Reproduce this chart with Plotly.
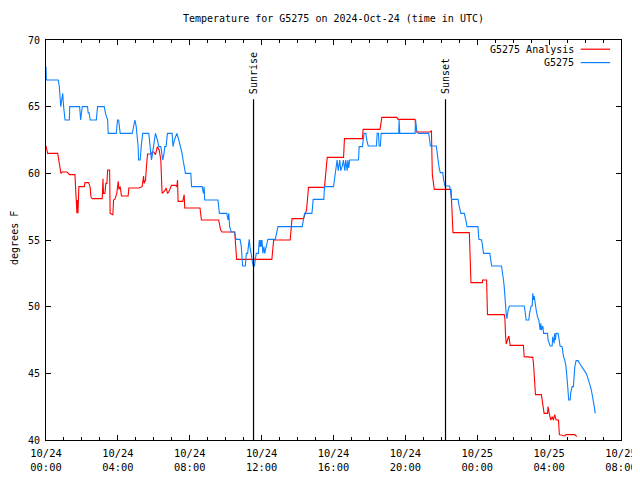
import pandas as pd
import plotly.graph_objects as go

# ---- data (hours after 2024-10-24 00:00 UTC, temperature in F) ----
analysis_hours = [0.0, 0.09, 0.65, 0.72, 0.76, 0.83, 0.9, 1.17, 1.25, 1.3, 1.61, 1.65, 1.72, 1.74, 1.78, 1.83,
                  2.13, 2.17, 2.37, 2.45, 2.5, 2.57, 3.13, 3.17, 3.2, 3.28, 3.33, 3.39, 3.43, 3.54, 3.57, 3.72,
                  3.76, 3.83, 3.94, 4.02, 4.06, 4.13, 4.2, 4.28, 4.57, 4.61, 5.17, 5.35, 5.43, 5.46, 5.54, 5.59,
                  5.65, 5.85, 5.91, 6.0, 6.09, 6.2, 6.3, 6.39, 6.46, 6.54, 6.61, 6.69, 6.76, 6.83, 6.98, 7.2,
                  7.28, 7.32, 7.35, 7.61, 7.69, 7.72, 8.57, 8.65, 9.61, 9.72, 9.8, 10.5, 10.57, 10.61, 12.57,
                  12.67, 13.59, 13.69, 14.33, 14.5, 14.61, 15.5, 15.61, 15.65, 16.56, 16.61, 17.61, 17.65,
                  18.59, 18.69, 19.52, 19.6, 20.54, 20.6, 21.37, 21.45, 21.5, 21.61, 22.54, 22.61, 22.65,
                  23.56, 23.6, 23.65, 24.28, 24.3, 24.52, 24.57, 25.5, 25.54, 25.57, 25.61, 25.68, 25.76,
                  25.83, 26.57, 26.61, 27.09, 27.13, 27.17, 27.24, 27.57, 27.65, 27.72, 27.91, 27.94, 28.02,
                  28.09, 28.17, 28.24, 28.31, 28.39, 28.52, 28.57, 28.87, 28.94, 29.43, 29.54]
analysis_temp = [62.05, 61.5, 61.5, 61.0, 60.5, 60.0, 60.1, 60.1, 60.0, 59.9, 59.9, 58.75, 57.0, 58.0, 57.0, 59.0,
                 59.0, 59.3, 59.3, 59.0, 58.25, 58.1, 58.1, 59.6, 58.5, 58.5, 59.25, 59.25, 60.25, 60.25, 57.0, 56.9,
                 58.0, 58.05, 58.5, 59.4, 58.8, 59.0, 58.3, 58.3, 58.3, 58.9, 58.9, 59.0, 59.8, 59.25, 59.5, 60.5,
                 61.45, 61.45, 61.6, 61.6, 61.4, 62.0, 61.75, 61.0, 58.5, 58.6, 58.7, 58.9, 58.5, 58.6, 59.1, 59.1,
                 59.0, 59.5, 57.9, 57.9, 58.4, 57.4, 57.4, 56.5, 56.5, 55.75, 55.6, 55.6, 54.05, 53.55, 53.55,
                 55.0, 55.0, 56.6, 56.6, 57.25, 58.95, 58.95, 60.6, 61.2, 61.2, 62.6, 62.6, 63.3,
                 63.3, 64.2, 64.2, 64.05, 64.05, 63.1, 63.1, 63.2, 59.9, 58.8, 58.8, 57.25, 55.55,
                 55.55, 53.8, 51.8, 51.8, 52.0, 52.0, 49.4, 49.4, 49.1, 48.0, 47.2, 47.5, 47.8,
                 47.1, 47.1, 46.25, 46.2, 45.75, 44.75, 43.4, 43.4, 42.6, 42.0, 42.0, 42.5, 41.9,
                 41.5, 41.75, 41.5, 41.9, 41.5, 41.5, 40.4, 40.3, 40.4, 40.4, 40.25]

station_hours = [0.0, 0.02, 0.68, 0.74, 0.82, 0.87, 0.93, 0.98, 1.06, 1.3, 1.32, 1.87, 1.93, 1.97, 2.02, 2.31,
                 2.35, 2.39, 2.46, 2.8, 2.84, 2.87, 3.24, 3.31, 3.43, 3.46, 3.91, 3.98, 4.04, 4.09, 4.13, 4.8,
                 4.87, 4.95, 5.02, 5.06, 5.13, 5.15, 5.24, 5.3, 5.38, 5.72, 5.8, 5.87, 5.93, 6.02, 6.09, 6.2,
                 6.28, 6.39, 6.46, 6.5, 6.57, 6.61, 6.68, 6.76, 7.02, 7.07, 7.15, 7.28, 7.39, 7.5, 7.57, 7.63,
                 7.7, 7.76, 8.06, 8.1, 8.69, 8.76, 8.8, 8.83, 9.57, 9.65, 10.06, 10.13, 10.17, 10.22, 10.31,
                 10.5, 10.57, 10.8, 10.87, 10.9, 10.94, 11.09, 11.11, 11.15, 11.22, 11.27, 11.31, 11.35, 11.4,
                 11.46, 11.53, 11.6, 11.63, 11.7, 11.82, 11.87, 11.91, 11.95, 11.98, 12.02, 12.07, 12.13,
                 12.17, 12.24, 12.35, 12.76, 12.85, 12.91, 14.26, 14.33, 14.39, 14.8, 14.87, 15.46, 15.5,
                 16.0, 16.06, 16.1, 16.13, 16.2, 16.26, 16.35, 16.4, 16.5, 16.55, 16.63, 16.68, 16.76,
                 16.8, 16.85, 16.9, 17.39, 17.43, 17.61, 17.7, 17.8, 17.85, 17.93, 18.39, 18.43, 18.5,
                 18.54, 18.61, 18.65, 19.63, 19.65, 19.69, 20.54, 20.57, 20.63, 20.72, 21.3, 21.35, 21.39,
                 21.72, 21.76, 21.8, 21.87, 21.94, 22.08, 22.13, 22.2, 22.46, 22.5, 22.57, 22.93, 23.0,
                 23.09, 23.28, 23.33, 23.38, 23.43, 24.04, 24.09, 24.24, 24.3, 24.35, 24.7, 24.76, 24.8,
                 25.35, 25.39, 25.46, 25.5, 25.54, 25.57, 25.61, 25.65, 25.69, 25.72, 25.79, 26.61, 26.65,
                 26.72, 26.87, 26.91, 27.0, 27.06, 27.09, 27.13, 27.17, 27.24, 27.28, 27.35, 27.43, 27.5,
                 27.54, 27.57, 27.65, 27.69, 27.91, 27.94, 28.06, 28.17, 28.2, 28.28, 28.31, 28.35, 28.39,
                 28.5, 28.54, 28.61, 28.72, 28.8, 28.87, 28.94, 29.02, 29.09, 29.17, 29.2, 29.28, 29.35,
                 29.39, 29.43, 29.5, 29.61, 29.72, 29.83, 29.94, 30.06, 30.13, 30.2, 30.28, 30.35, 30.43,
                 30.5, 30.57]
station_temp = [68.0, 67.0, 67.0, 66.5, 65.0, 65.5, 66.0, 65.0, 64.0, 64.0, 65.0, 65.0, 64.0, 64.5, 65.0, 65.0,
                64.5, 64.6, 64.0, 64.0, 64.5, 65.0, 65.0, 64.5, 64.0, 63.0, 63.0, 64.0, 64.0, 63.5, 63.0, 63.0,
                63.5, 64.0, 63.5, 63.0, 62.0, 61.0, 61.0, 62.0, 63.0, 63.0, 62.0, 61.0, 61.5, 62.5, 63.0, 62.5,
                62.0, 62.0, 61.5, 61.0, 61.5, 62.0, 62.0, 63.0, 63.0, 62.0, 62.5, 63.0, 62.5, 62.0, 61.5, 61.0,
                60.5, 60.0, 60.0, 59.0, 59.0, 58.5, 59.0, 58.0, 58.0, 57.0, 57.0, 56.5, 57.0, 56.0, 55.6,
                55.6, 55.05, 55.05, 54.5, 54.0, 53.05, 53.05, 53.5, 54.0, 54.0, 54.5, 55.05, 54.5, 54.0,
                53.75, 53.05, 53.05, 53.5, 54.0, 54.0, 55.0, 54.5, 55.0, 54.5, 55.0, 54.0, 54.5,
                54.0, 54.4, 55.05, 55.05, 55.5, 56.0, 56.0, 56.6, 57.0, 57.0, 58.05, 58.05, 59.0,
                59.0, 59.6, 60.1, 60.5, 61.0, 60.2, 61.0, 60.2, 60.6, 61.0, 60.2, 61.0, 60.2,
                61.0, 60.4, 61.0, 61.0, 62.0, 62.0, 63.0, 63.0, 62.5, 62.05, 62.05, 63.0, 63.0,
                62.05, 62.05, 63.0, 63.0, 64.0, 63.0, 63.0, 64.0, 63.2, 63.0, 63.0, 62.5, 62.05,
                62.05, 61.5, 61.0, 60.5, 60.05, 60.05, 59.5, 59.05, 59.05, 58.8, 58.05, 58.05, 57.5,
                57.0, 57.0, 56.75, 56.4, 56.0, 56.0, 55.05, 55.0, 54.5, 54.0, 54.0, 53.5, 53.05,
                53.05, 52.75, 52.0, 51.5, 50.5, 50.0, 49.5, 49.1, 49.5, 49.75, 50.05, 50.05, 49.75,
                49.0, 49.0, 49.5, 50.05, 50.05, 51.0, 50.5, 50.8, 50.0, 49.75, 49.25, 48.95, 48.25,
                48.75, 48.25, 48.55, 48.0, 48.0, 47.5, 47.05, 47.05, 47.75, 47.25, 48.0, 47.5, 48.0,
                48.0, 47.5, 47.05, 47.0, 46.25, 46.0, 45.5, 44.25, 43.0, 43.0, 43.5, 44.0, 44.0,
                44.75, 45.5, 45.95, 45.95, 45.7, 45.5, 45.25, 45.0, 44.75, 44.5, 44.1, 43.75, 43.25,
                42.6, 42.0]

sunrise_time = "2024-10-24 11:33"
sunset_time = "2024-10-24 22:14"
x_start = "2024-10-24 00:00"
x_end = "2024-10-25 08:00"
tick_times = pd.date_range(x_start, x_end, freq="4h")
tick_labels = [t.strftime("%m/%d") + "<br>" + t.strftime("%H:%M") for t in tick_times]
y_ticks = [40, 45, 50, 55, 60, 65, 70]

base = pd.Timestamp(x_start)
t_analysis = base + pd.to_timedelta(analysis_hours, unit="h")
t_station = base + pd.to_timedelta(station_hours, unit="h")

FONT = "DejaVu Sans Mono"
RED = "#ff0000"
BLUE = "#0a80ff"

fig = go.Figure()
fig.add_trace(go.Scatter(x=t_analysis, y=analysis_temp, mode="lines", name="G5275 Analysis",
                         line=dict(color=RED, width=1.1)))
fig.add_trace(go.Scatter(x=t_station, y=station_temp, mode="lines", name="G5275",
                         line=dict(color=BLUE, width=1.1)))

# sunrise / sunset lines
for t, label in [(sunrise_time, "Sunrise"), (sunset_time, "Sunset")]:
    fig.add_shape(type="line", xref="x", yref="paper", x0=t, x1=t, y0=0, y1=0.852,
                  line=dict(color="black", width=1.2))
    fig.add_annotation(x=t, y=0.8585, xref="x", yref="paper", text=label, textangle=-90,
                       showarrow=False, xanchor="center", yanchor="bottom",
                       font=dict(family=FONT, size=10, color="black"))

# legend (gnuplot style: text right-aligned, sample to the right)
for row, (name, col) in enumerate([("G5275 Analysis", RED), ("G5275", BLUE)]):
    yy = 0.977 - row * 0.0335
    fig.add_annotation(x=0.9217, y=yy, xref="paper", yref="paper", text=name, showarrow=False,
                       xanchor="right", yanchor="middle", font=dict(family=FONT, size=10, color="black"))
    fig.add_shape(type="line", xref="paper", yref="paper", x0=0.930, x1=0.981, y0=yy, y1=yy,
                  line=dict(color=col, width=1.2))

# y-axis title
fig.add_annotation(x=-0.0557, y=0.505, xref="paper", yref="paper", text="degrees F", textangle=-90,
                   showarrow=False, xanchor="center", yanchor="middle",
                   font=dict(family=FONT, size=10, color="black"))

fig.update_layout(
    width=632, height=472,
    margin=dict(l=38, r=19, t=32, b=40, autoexpand=False),
    paper_bgcolor="white", plot_bgcolor="white",
    showlegend=False,
    title=dict(text="Temperature for G5275 on 2024-Oct-24 (time in UTC)", x=0.515, xanchor="center",
               y=0.9767, yanchor="middle", font=dict(family=FONT, size=10, color="black")),
    font=dict(family=FONT, size=10, color="black"),
)
fig.update_xaxes(range=[x_start, x_end], tickvals=tick_times, ticktext=tick_labels, automargin=False,
                 ticks="inside", ticklen=5, tickcolor="black", showline=True, linecolor="black",
                 linewidth=1, mirror="allticks", showgrid=False, zeroline=False, ticklabelstandoff=4,
                 minor=dict(dtick=3600000, ticks="inside", ticklen=3, tickcolor="black", showgrid=False),
                 tickfont=dict(family=FONT, size=10.4, color="black"))
fig.update_yaxes(range=[40, 70], tickvals=y_ticks, ticks="inside", ticklen=5, tickcolor="black",
                 automargin=False, ticklabelstandoff=3,
                 showline=True, linecolor="black", linewidth=1, mirror="allticks", showgrid=False,
                 zeroline=False, tickfont=dict(family=FONT, size=10, color="black"))

fig.write_html("out.html")
